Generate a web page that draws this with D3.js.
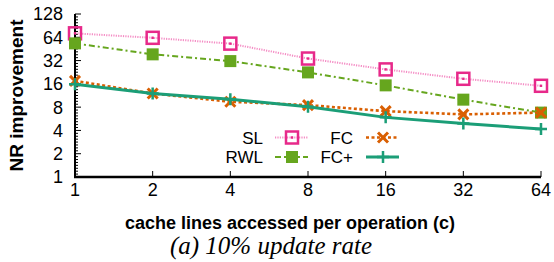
<!DOCTYPE html>
<html>
<head>
<meta charset="utf-8">
<script src="https://cdn.jsdelivr.net/npm/d3@7"></script>
<style>
  body { margin: 0; background: #fff; }
  svg { display: block; }
  .tick-label { font-family: "Liberation Sans", Arial, sans-serif; font-size: 18px; fill: #000; }
  .axis-title { font-family: "Liberation Sans", Arial, sans-serif; font-size: 18px; font-weight: bold; fill: #000; }
  .legend-text { font-family: "Liberation Sans", Arial, sans-serif; font-size: 17px; fill: #000; }
  .caption { font-family: "Liberation Serif", "Times New Roman", serif; font-size: 25px; font-style: italic; fill: #000; }
</style>
</head>
<body>
<div id="chart"></div>
<script>
// data
const cacheLines = [1, 2, 4, 8, 16, 32, 64];
const yTicks = [1, 2, 4, 8, 16, 32, 64, 128];
const slValues = [72, 63, 53, 34, 24.6, 18.6, 15.1];
const rwlValues = [53.4, 38.5, 31.5, 22.5, 15.3, 10, 6.8];
const fcValues = [17.5, 12.0, 9.4, 8.5, 7.1, 6.45, 6.8];
const fcPlusValues = [15.8, 12.0, 10.1, 8.1, 5.9, 4.9, 4.17];

const width = 554, height = 262;
const margin = { top: 14, right: 13, bottom: 85, left: 75 };

const svg = d3.select("#chart").append("svg")
  .attr("width", width).attr("height", height);

const x = d3.scaleLog().base(2).domain([1, 64])
  .range([margin.left, width - margin.right]);
const y = d3.scaleLog().base(2).domain([1, 128])
  .range([height - margin.bottom, margin.top]);

// series styles
const series = [
  { name: "SL", values: slValues, color: "#e7298a", lineColor: "#f48cc4", width: 2, dash: "1.2,1.2", marker: "sq" },
  { name: "RWL", values: rwlValues, color: "#66a61e", lineColor: "#66a61e", width: 2, dash: "6,3,2,3", marker: "fsq" },
  { name: "FC", values: fcValues, color: "#d95f02", lineColor: "#d95f02", width: 2.6, dash: "3,2.5", marker: "x" },
  { name: "FC+", values: fcPlusValues, color: "#1b9e77", lineColor: "#1b9e77", width: 3, dash: null, marker: "plus" }
];

////////////////////////////  Axes  ////////////////////////////
const axisG = svg.append("g");
// left axis line
axisG.append("line")
  .attr("x1", x(1)).attr("x2", x(1))
  .attr("y1", y(128)).attr("y2", y(1))
  .attr("stroke", "#000").attr("stroke-width", 2);
// bottom axis line
axisG.append("line")
  .attr("x1", x(1) - 1).attr("x2", x(64))
  .attr("y1", y(1)).attr("y2", y(1))
  .attr("stroke", "#000").attr("stroke-width", 2.5);

// y minor ticks
const minor = [];
for (let k = 0; k < 7; k++) for (let i = 1; i < 8; i++) minor.push(Math.pow(2, k + i / 8));
axisG.selectAll(".ymin").data(minor).join("line")
  .attr("x1", x(1)).attr("x2", x(1) + 3)
  .attr("y1", d => y(d)).attr("y2", d => y(d))
  .attr("stroke", "#000").attr("stroke-width", 1);
// y major ticks
axisG.selectAll(".ymaj").data(yTicks).join("line")
  .attr("x1", x(1)).attr("x2", x(1) + 6)
  .attr("y1", d => y(d)).attr("y2", d => y(d))
  .attr("stroke", "#000").attr("stroke-width", 1);
axisG.selectAll(".ylab").data(yTicks).join("text")
  .attr("class", "tick-label")
  .attr("x", x(1) - 12).attr("y", d => y(d))
  .attr("dy", "0.36em").attr("text-anchor", "end")
  .text(d => d);

// x ticks
axisG.selectAll(".xmaj").data(cacheLines).join("line")
  .attr("x1", d => x(d)).attr("x2", d => x(d))
  .attr("y1", y(1)).attr("y2", y(1) - 6)
  .attr("stroke", "#000").attr("stroke-width", 1);
axisG.selectAll(".xlab").data(cacheLines).join("text")
  .attr("class", "tick-label")
  .attr("x", d => x(d)).attr("y", y(1) + 19)
  .attr("text-anchor", "middle")
  .text(d => d);

// titles
svg.append("text").attr("class", "axis-title")
  .style("font-size", "19px")
  .attr("transform", `translate(23,${(y(1) + y(128)) / 2}) rotate(-90)`)
  .attr("text-anchor", "middle")
  .text("NR improvement");
svg.append("text").attr("class", "axis-title")
  .attr("x", 290).attr("y", 229)
  .attr("text-anchor", "middle")
  .text("cache lines accessed per operation (c)");
svg.append("text").attr("class", "caption")
  .attr("x", 271).attr("y", 254)
  .attr("text-anchor", "middle")
  .text("(a) 10% update rate");

////////////////////////////  Markers  ////////////////////////////
function drawMarker(g, type, color) {
  if (type === "sq") {
    g.append("rect").attr("x", -6).attr("y", -6).attr("width", 12).attr("height", 12)
      .attr("fill", "none").attr("stroke", color).attr("stroke-width", 2.5);
    g.append("rect").attr("x", -1.2).attr("y", -1.2).attr("width", 2.4).attr("height", 2.4)
      .attr("fill", color);
  } else if (type === "fsq") {
    g.append("rect").attr("x", -6).attr("y", -6).attr("width", 12).attr("height", 12)
      .attr("fill", color);
  } else if (type === "x") {
    g.append("path").attr("d", "M-5,-5L5,5M-5,5L5,-5")
      .attr("stroke", color).attr("stroke-width", 3).attr("fill", "none");
  } else if (type === "plus") {
    g.append("path").attr("d", "M-6,0L6,0M0,-6L0,6")
      .attr("stroke", color).attr("stroke-width", 2.5).attr("fill", "none");
  }
}

const line = d3.line().x((d, i) => x(cacheLines[i])).y(d => y(d));

series.forEach(s => {
  svg.append("path")
    .attr("d", line(s.values))
    .attr("fill", "none")
    .attr("stroke", s.lineColor)
    .attr("stroke-width", s.width)
    .attr("stroke-dasharray", s.dash);
  s.values.forEach((v, i) => {
    const g = svg.append("g").attr("transform", `translate(${x(cacheLines[i])},${y(v)})`);
    drawMarker(g, s.marker, s.color);
  });
});

////////////////////////////  Legend  ////////////////////////////
const legendPos = [
  { tx: 263, lx: 275, ty: 137.5 },
  { tx: 263, lx: 275, ty: 157 },
  { tx: 353, lx: 366, ty: 137.5 },
  { tx: 353, lx: 366, ty: 157 }
];
series.forEach((s, i) => {
  const p = legendPos[i];
  svg.append("text").attr("class", "legend-text")
    .attr("x", p.tx).attr("y", p.ty).attr("dy", "0.36em")
    .attr("text-anchor", "end").text(s.name);
  svg.append("line")
    .attr("x1", p.lx).attr("x2", p.lx + 33)
    .attr("y1", p.ty).attr("y2", p.ty)
    .attr("stroke", s.lineColor).attr("stroke-width", s.width)
    .attr("stroke-dasharray", s.dash);
  const g = svg.append("g").attr("transform", `translate(${p.lx + 17},${p.ty})`);
  drawMarker(g, s.marker, s.color);
});
</script>
</body>
</html>
